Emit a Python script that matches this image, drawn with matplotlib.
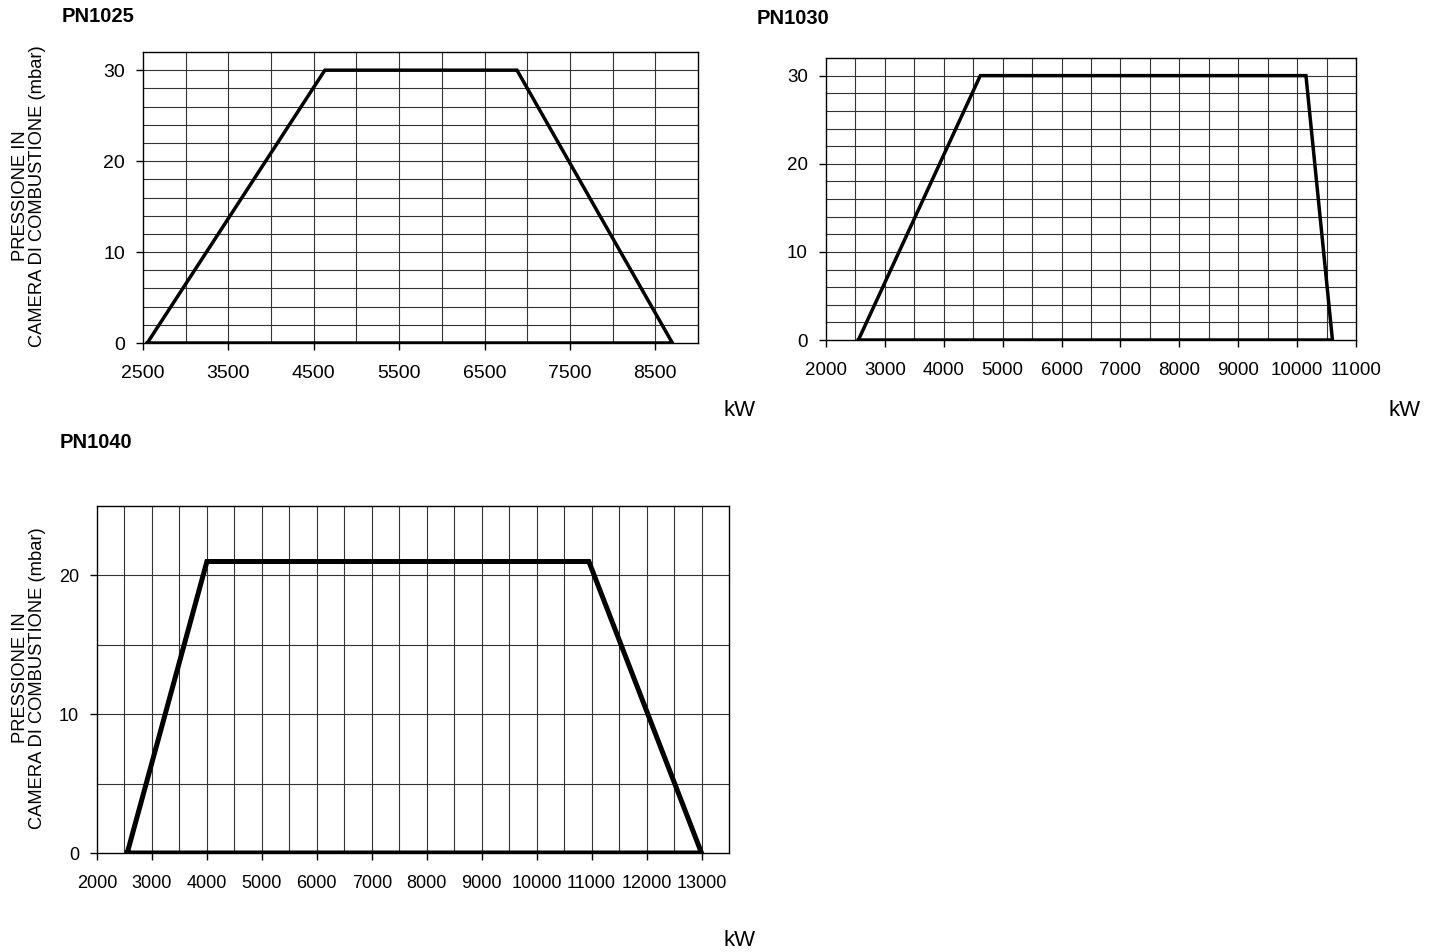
import numpy as np
import matplotlib
matplotlib.use("Agg")
import matplotlib.pyplot as plt

plt.rcParams["font.family"] = ["Liberation Sans", "DejaVu Sans"]

# PN1025 working field
pn1025_kw = [2550, 4630, 6880, 8700, 2550]
pn1025_mbar = [0, 30, 30, 0, 0]
pn1025_xticks = [2500, 3500, 4500, 5500, 6500, 7500, 8500]

# PN1030 working field
pn1030_kw = [2550, 4620, 10150, 10600, 2550]
pn1030_mbar = [0, 30, 30, 0, 0]
pn1030_xticks = [2000, 3000, 4000, 5000, 6000, 7000, 8000, 9000, 10000, 11000]

# PN1040 working field
pn1040_kw = [2550, 4000, 10950, 13000, 2550]
pn1040_mbar = [0, 21, 21, 0, 0]
pn1040_xticks = [2000, 3000, 4000, 5000, 6000, 7000, 8000, 9000, 10000, 11000, 12000, 13000]

ylabel = "PRESSIONE IN\nCAMERA DI COMBUSTIONE (mbar)"

W, H = 1437, 952
fig = plt.figure(figsize=(W / 100, H / 100), dpi=100)


def make_ax(left, right, top, bottom):
    return fig.add_axes([left / W, 1 - bottom / H, (right - left) / W, (bottom - top) / H])


def style(ax, xlim, ylim, xticks, yticks, xgrid, ygrid, fs):
    ax.set_xlim(*xlim)
    ax.set_ylim(*ylim)
    ax.set_xticks(xticks)
    ax.set_yticks(yticks)
    for x in xgrid:
        ax.axvline(x, color="#333333", lw=0.8, zorder=1)
    for y in ygrid:
        ax.axhline(y, color="#333333", lw=0.8, zorder=1)
    for s in ax.spines.values():
        s.set_linewidth(1.0)
        s.set_color("black")
    ax.tick_params(direction="out", length=5, width=1, labelsize=fs, pad=8)
    ax.tick_params(axis="x", pad=11)


# chart 1
ax1 = make_ax(143, 698, 52, 343)
ax1.plot(pn1025_kw, pn1025_mbar, color="black", lw=2.5, zorder=3, solid_joinstyle="miter")
style(ax1, (2500, 9000), (0, 32), pn1025_xticks, [0, 10, 20, 30],
      np.arange(3000, 9000, 500), np.arange(2, 32, 2), 14)

# chart 2
ax2 = make_ax(826, 1356, 58, 340)
ax2.plot(pn1030_kw, pn1030_mbar, color="black", lw=2.5, zorder=3, solid_joinstyle="miter")
style(ax2, (2000, 11000), (0, 32), pn1030_xticks, [0, 10, 20, 30],
      np.arange(2500, 11000, 500), np.arange(2, 32, 2), 13.5)

# chart 3
ax3 = make_ax(97, 729, 506, 853)
ax3.plot(pn1040_kw, pn1040_mbar, color="black", lw=3.6, zorder=3, solid_joinstyle="miter")
style(ax3, (2000, 13500), (0, 25), pn1040_xticks, [0, 10, 20],
      np.arange(2500, 13500, 500), [5, 10, 15, 20], 13)

# titles and labels
fig.text(62 / W, 1 - 17 / H, "PN1025", fontsize=14.5, fontweight="bold", va="center", ha="left")
fig.text(757 / W, 1 - 18 / H, "PN1030", fontsize=14.5, fontweight="bold", va="center", ha="left")
fig.text(60 / W, 1 - 442 / H, "PN1040", fontsize=14.5, fontweight="bold", va="center", ha="left")

fig.text(29 / W, 1 - 196 / H, ylabel, rotation=90, fontsize=13.2, ha="center", va="center",
         multialignment="center", linespacing=1.05)
fig.text(29 / W, 1 - 678 / H, ylabel, rotation=90, fontsize=13.2, ha="center", va="center",
         multialignment="center", linespacing=1.05)

fig.text(740 / W, 1 - 410 / H, "kW", fontsize=16, ha="center", va="center")
fig.text(1405 / W, 1 - 410 / H, "kW", fontsize=16, ha="center", va="center")
fig.text(740 / W, 1 - 940 / H, "kW", fontsize=16, ha="center", va="center")

fig.savefig("out.png", dpi=100)
